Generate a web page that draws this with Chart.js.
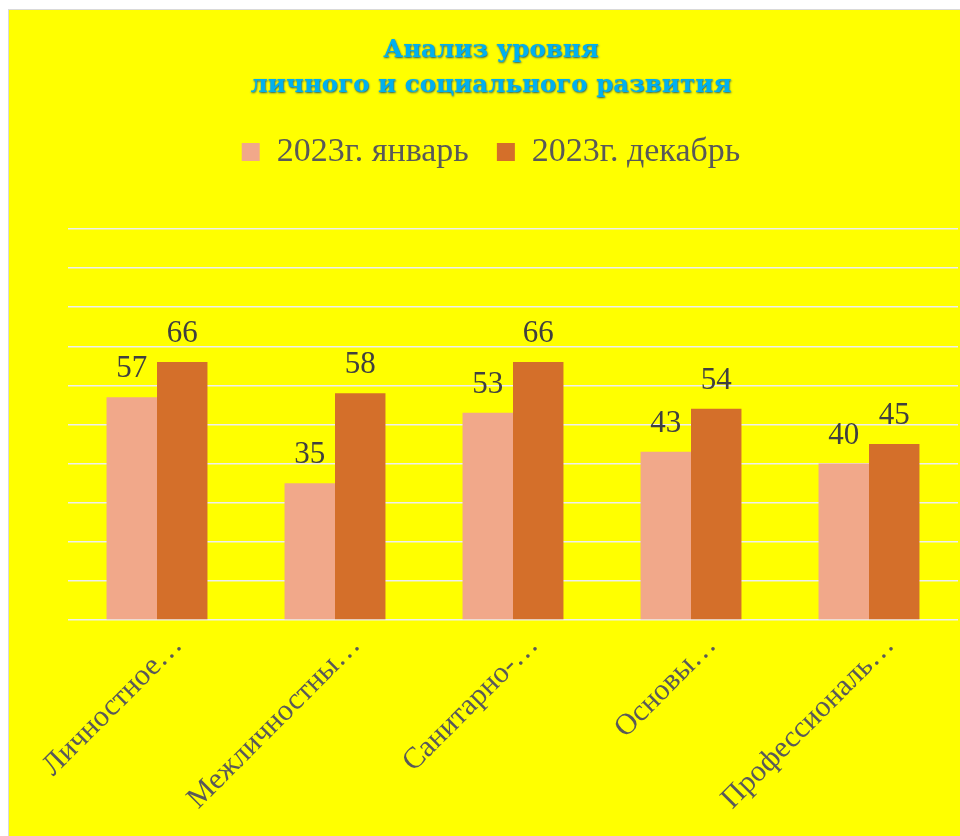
<!DOCTYPE html>
<html>
<head>
<meta charset="utf-8">
<script src="https://cdn.jsdelivr.net/npm/chart.js@4/dist/chart.umd.min.js"></script>
<style>
  html, body { margin: 0; padding: 0; background: #ffffff; overflow: hidden; width: 960px; height: 836px; }
  #frame { position: absolute; left: 8px; top: 9px; width: 964px; height: 830px; border: 1px solid #d9d9d9; background: #ffff00; }
  canvas { display: block; }
</style>
</head>
<body>
<div id="frame"><canvas id="c" width="964" height="830"></canvas></div>
<script>
const titleLines = ["Анализ уровня", "личного и социального развития"];
const categories = ["Личностное…", "Межличностны…", "Санитарно-…", "Основы…", "Профессиональ…"];
const seriesNames = ["2023г. январь", "2023г. декабрь"];
const january = [57, 35, 53, 43, 40];
const december = [66, 58, 66, 54, 45];
const yTicks = { min: 0, max: 100, step: 10 };

const barLabels = {
  id: 'barLabels',
  afterDatasetsDraw(chart) {
    const ctx = chart.ctx;
    ctx.save();
    ctx.font = '31px "Liberation Serif", "Times New Roman", serif';
    ctx.fillStyle = '#404040';
    ctx.textAlign = 'center';
    ctx.textBaseline = 'alphabetic';
    chart.data.datasets.forEach((ds, di) => {
      const meta = chart.getDatasetMeta(di);
      meta.data.forEach((el, i) => {
        ctx.fillText(String(ds.data[i]), el.x, el.y - 20);
      });
    });
    ctx.restore();
  }
};

const titleShadow = {
  id: 'titleShadow',
  afterInit(chart) {
    const tb = chart.titleBlock;
    if (!tb) return;
    const orig = tb.draw.bind(tb);
    tb.draw = function () {
      const ctx = chart.ctx;
      ctx.save();
      ctx.shadowColor = 'rgba(0, 60, 110, 0.85)';
      ctx.shadowBlur = 2;
      ctx.shadowOffsetX = 0.5;
      ctx.shadowOffsetY = 0.5;
      orig();
      ctx.restore();
    };
  }
};

new Chart(document.getElementById('c'), {
  type: 'bar',
  data: {
    labels: categories,
    datasets: [
      { label: seriesNames[0], data: january, backgroundColor: '#F1A88A' },
      { label: seriesNames[1], data: december, backgroundColor: '#D46F2A' }
    ]
  },
  options: {
    responsive: false,
    animation: false,
    devicePixelRatio: 1,
    layout: { padding: 0 },
    datasets: { bar: { categoryPercentage: 0.567, barPercentage: 1.0 } },
    plugins: {
      title: {
        display: true,
        text: titleLines,
        color: '#00B0F0',
        font: { family: '"DejaVu Serif", serif', size: 24.5, weight: 'bold', lineHeight: '35px' },
        padding: { top: 23.5, bottom: 3.5 }
      },
      subtitle: {
        display: true,
        text: ' ',
        weight: 500,
        font: { size: 12, lineHeight: 1 },
        padding: { top: 38, bottom: 0 }
      },
      legend: {
        display: true,
        position: 'top',
        labels: {
          boxWidth: 18,
          boxHeight: 18,
          padding: 28,
          color: '#595959',
          font: { family: '"Liberation Serif", "Times New Roman", serif', size: 34 }
        }
      },
      tooltip: { enabled: false }
    },
    scales: {
      x: {
        grid: { display: false, drawTicks: false },
        border: { display: false },
        ticks: {
          autoSkip: false,
          minRotation: 45,
          maxRotation: 45,
          padding: 8,
          labelOffset: 21,
          color: '#595959',
          font: { family: '"Liberation Serif", "Times New Roman", serif', size: 30 }
        },
        afterFit(scale) {
          scale.height = 220;
          scale.paddingLeft = 0;
          scale.paddingRight = 15;
        }
      },
      y: {
        min: yTicks.min,
        max: yTicks.max,
        grid: { color: '#EEEEEE', lineWidth: 1.5, drawTicks: false },
        border: { display: false },
        ticks: { display: false, stepSize: yTicks.step },
        afterFit(scale) {
          scale.width = 59;
        }
      }
    }
  },
  plugins: [barLabels, titleShadow]
});
</script>
</body>
</html>
